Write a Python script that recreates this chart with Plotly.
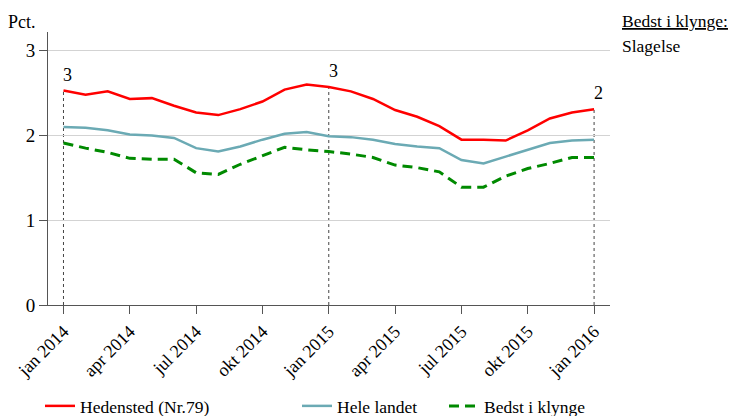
import plotly.graph_objects as go

# ---- data ----
months = [f"{y}-{m:02d}" for y in (2014, 2015) for m in range(1, 13)] + ["2016-01"]
hedensted = [2.53, 2.48, 2.52, 2.43, 2.44, 2.35, 2.27, 2.24, 2.31, 2.40, 2.54, 2.60,
             2.57, 2.52, 2.43, 2.30, 2.22, 2.11, 1.95, 1.95, 1.94, 2.06, 2.20, 2.27, 2.31]
hele_landet = [2.10, 2.09, 2.06, 2.01, 2.00, 1.97, 1.85, 1.81, 1.87, 1.95, 2.02, 2.04,
               1.99, 1.98, 1.95, 1.90, 1.87, 1.85, 1.71, 1.67, 1.75, 1.83, 1.91, 1.94, 1.95]
bedst = [1.91, 1.85, 1.80, 1.73, 1.72, 1.72, 1.56, 1.54, 1.66, 1.76, 1.86, 1.83,
         1.81, 1.78, 1.74, 1.65, 1.62, 1.57, 1.39, 1.39, 1.52, 1.61, 1.67, 1.74, 1.74]
tick_labels = ["jan 2014", "apr 2014", "jul 2014", "okt 2014", "jan 2015",
               "apr 2015", "jul 2015", "okt 2015", "jan 2016"]
rank_months = ["2014-01", "2015-01", "2016-01"]
rank_labels = ["3", "3", "2"]
y_ticks = [0, 1, 2, 3]
cluster_best = "Slagelse"

FONT = "'Liberation Serif', 'Times New Roman', serif"
RED = "#FF0000"
TEAL = "#6BAAB4"
GREEN = "#008A00"

xi = list(range(len(months)))
tickpos = xi[::3]

fig = go.Figure()
fig.add_trace(go.Scatter(x=xi, y=hedensted, mode="lines", name="Hedensted (Nr.79)",
                         line=dict(color=RED, width=2.5), legend="legend"))
fig.add_trace(go.Scatter(x=xi, y=hele_landet, mode="lines", name="Hele landet",
                         line=dict(color=TEAL, width=2.5), legend="legend2"))
fig.add_trace(go.Scatter(x=xi, y=bedst, mode="lines", name="Bedst i klynge",
                         line=dict(color=GREEN, width=3, dash="10px,6px"), legend="legend3"))

for m, lab in zip(rank_months, rank_labels):
    i = months.index(m)
    fig.add_shape(type="line", x0=i, x1=i, y0=0, y1=hedensted[i], xref="x", yref="y",
                  line=dict(color="#444444", width=1, dash="3px,3px"), layer="below")
    fig.add_annotation(x=i, y=hedensted[i], text=lab, showarrow=False, xanchor="left",
                       yanchor="bottom", yshift=4, xshift=-2,
                       font=dict(family=FONT, size=18, color="black"))

W, H = 731, 416
L, R, T, B = 48, 121, 32, 111
pw, ph = W - L - R, H - T - B


def px_x(px):
    return (px - L) / pw


def px_y(py):
    return (H - B - py) / ph


fig.add_annotation(xref="paper", yref="paper", x=px_x(6), y=px_y(22), text="Pct.",
                   showarrow=False, xanchor="left", yanchor="middle",
                   font=dict(family=FONT, size=18, color="black"))
fig.add_annotation(xref="paper", yref="paper", x=px_x(620), y=px_y(21),
                   text="<u>Bedst i klynge:</u>", showarrow=False, xanchor="left",
                   yanchor="middle", font=dict(family=FONT, size=17.5, color="black"))
fig.add_annotation(xref="paper", yref="paper", x=px_x(620), y=px_y(46),
                   text=cluster_best, showarrow=False, xanchor="left",
                   yanchor="middle", font=dict(family=FONT, size=17.5, color="black"))

leg_common = dict(xref="container", yref="container", xanchor="left", yanchor="middle",
                  orientation="h", bgcolor="rgba(0,0,0,0)", borderwidth=0,
                  font=dict(family=FONT, size=17.5, color="black"), itemwidth=30)
y_leg = 1 - 406 / H

fig.update_layout(
    width=W, height=H,
    margin=dict(l=L, r=R, t=T, b=B, autoexpand=False),
    paper_bgcolor="white", plot_bgcolor="white",
    font=dict(family=FONT, size=18, color="black"),
    showlegend=True,
    legend=dict(x=40 / W, y=y_leg, **leg_common),
    legend2=dict(x=(298 - 1) / W, y=y_leg, **leg_common),
    legend3=dict(x=(443 + 1) / W, y=y_leg, **leg_common),
    xaxis=dict(range=[-0.70, len(months) - 1 + 0.72], tickvals=tickpos, ticktext=tick_labels,
               tickangle=-45, showgrid=False, zeroline=False, showline=True,
               linecolor="#555555", linewidth=1, ticks="outside", ticklen=8,
               tickcolor="#555555", tickfont=dict(family=FONT, size=18, color="black")),
    yaxis=dict(range=[0, 3.22], tickvals=y_ticks, showgrid=True, gridcolor="#D3D3D3",
               gridwidth=1, zeroline=False, showline=True, linecolor="#555555",
               linewidth=1, ticks="outside", ticklen=8, tickcolor="#555555",
               tickfont=dict(family=FONT, size=19, color="black")),
)

fig.write_html("out.html", config={"displayModeBar": False},
               post_script="document.body.style.margin='0';")
